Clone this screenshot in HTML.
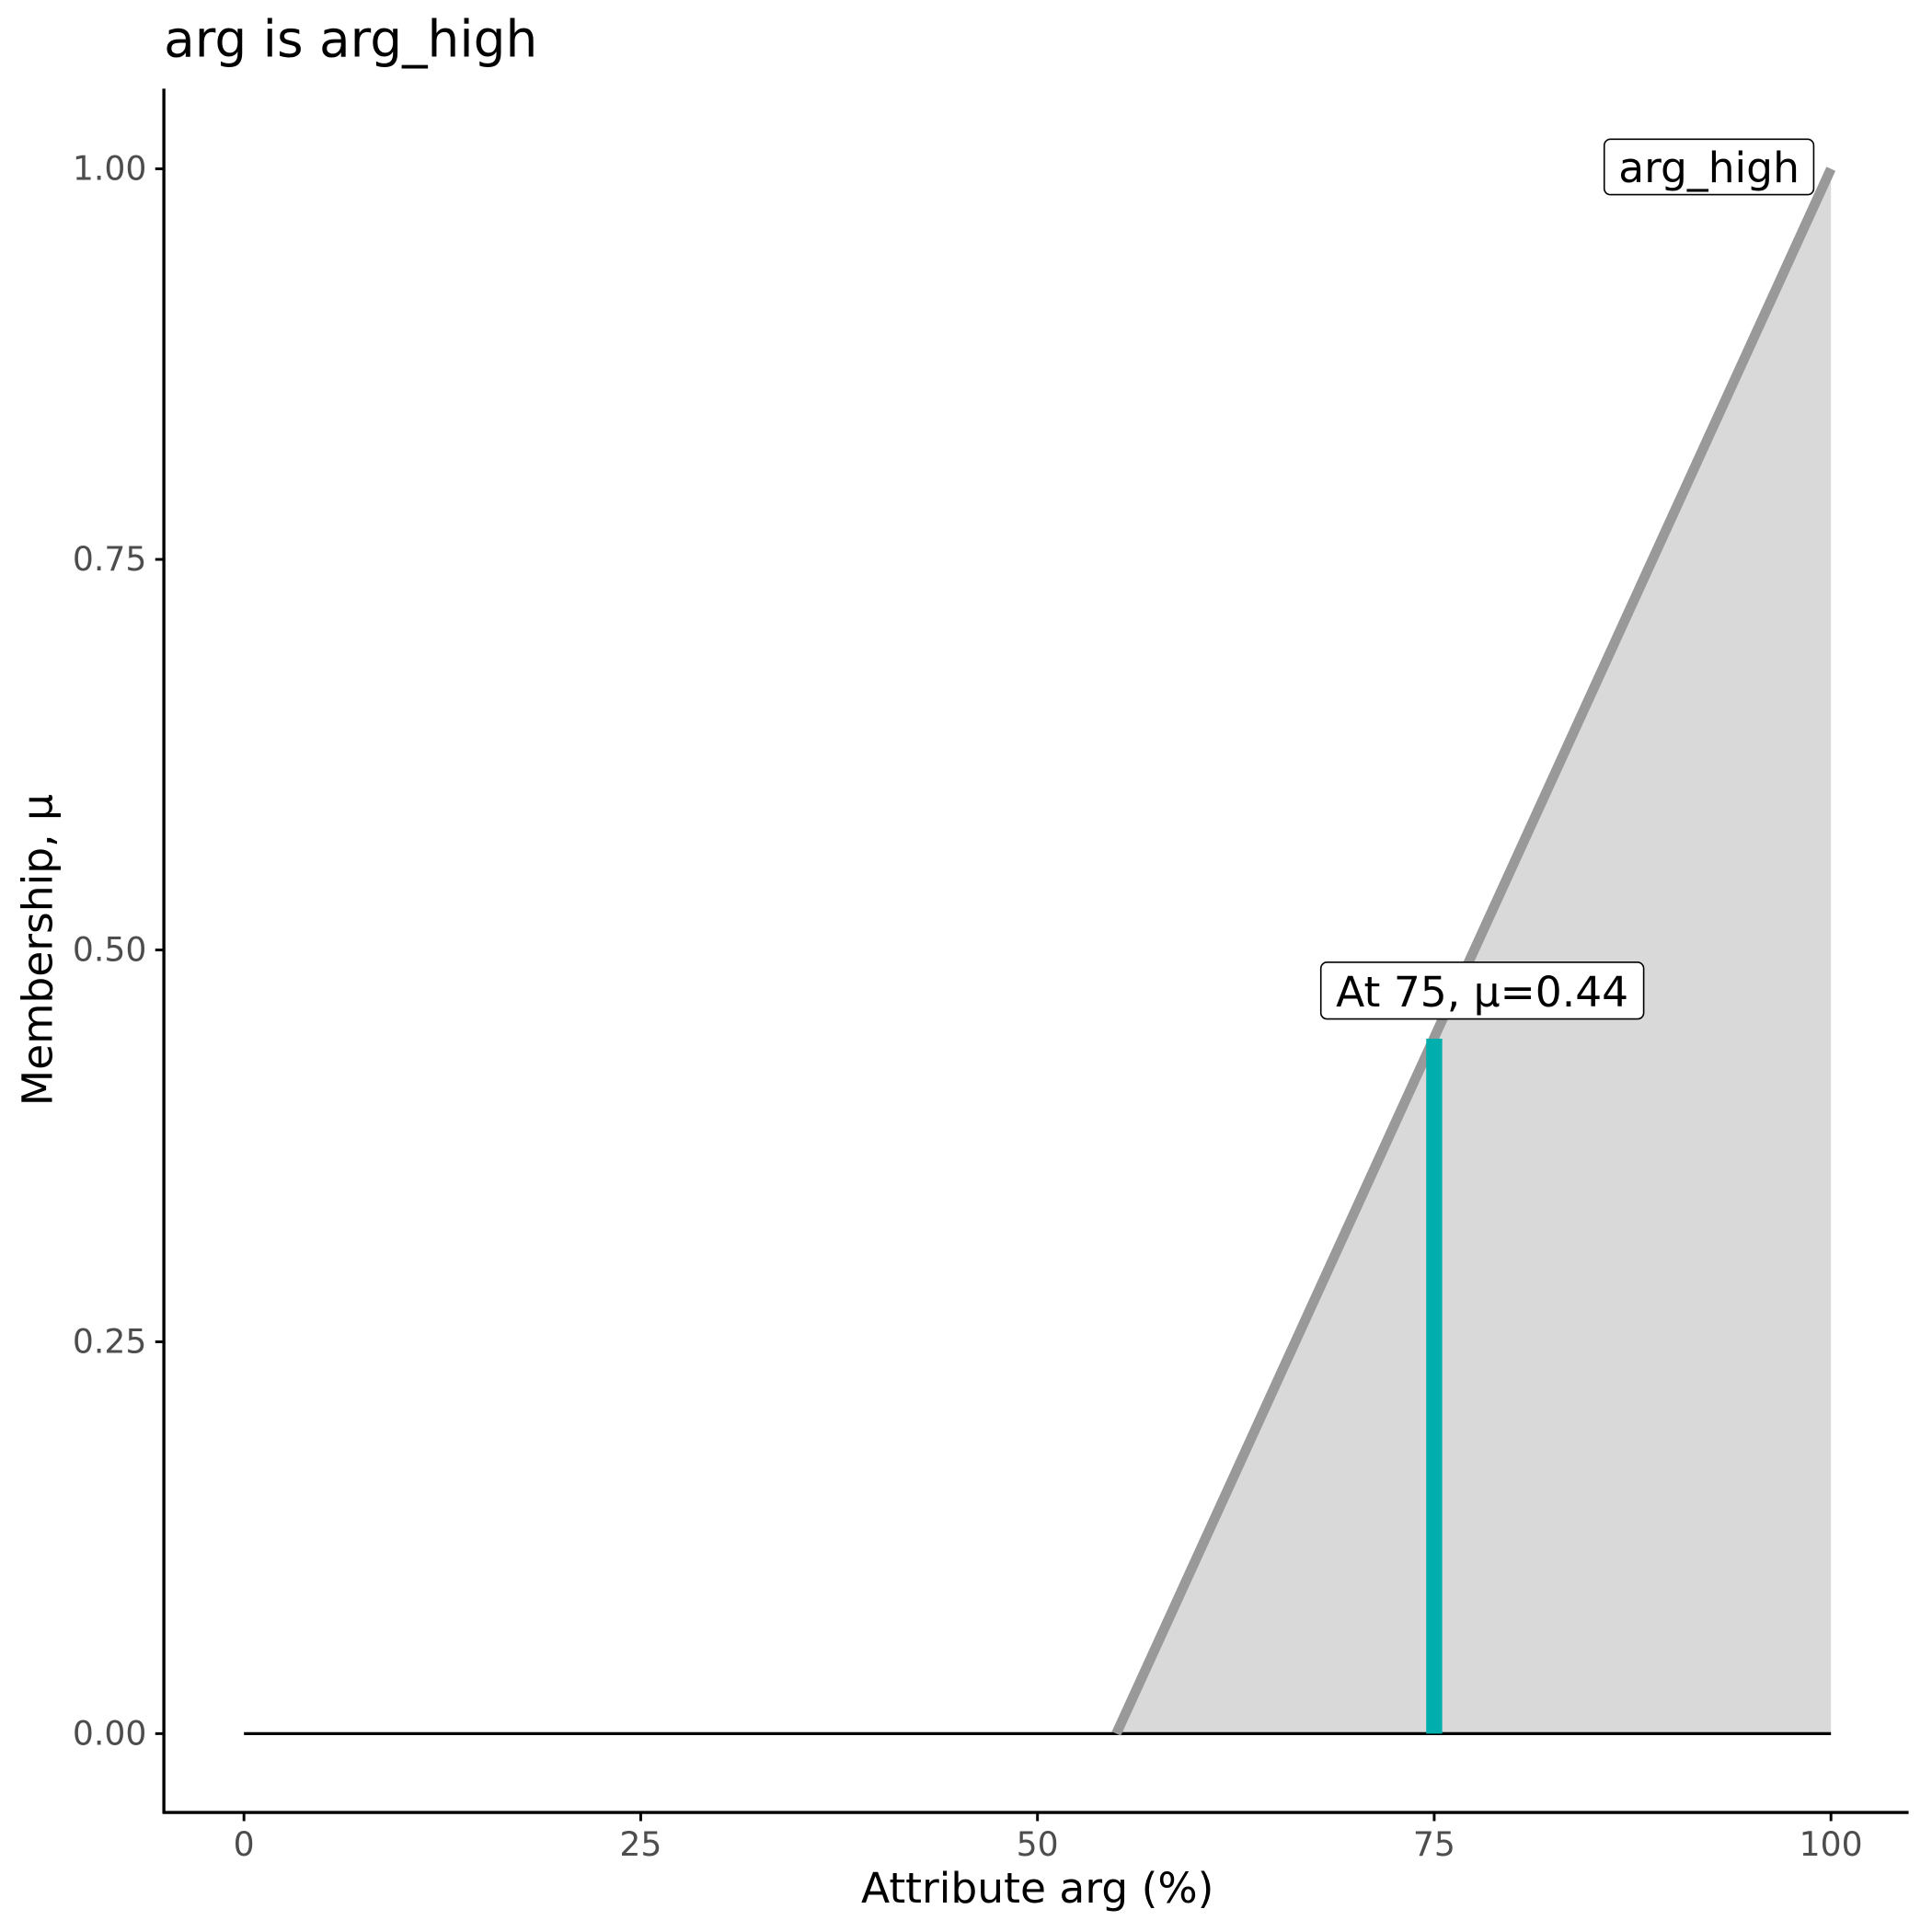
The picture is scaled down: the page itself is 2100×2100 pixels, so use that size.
<!DOCTYPE html>
<html><head><style>html,body{margin:0;padding:0;background:#fff}svg{display:block}</style></head>
<body>
<svg width="2100" height="2100" viewBox="0 0 1568 1568" xmlns="http://www.w3.org/2000/svg" font-family="'DejaVu Sans','Liberation Sans',sans-serif">
<rect width="1568" height="1568" fill="#fff"/>
<polygon points="906,1407 1486,137 1486,1407" fill="#d9d9d9"/>
<line x1="198" y1="1407" x2="1486" y2="1407" stroke="#000" stroke-width="2.5"/>
<line x1="906" y1="1407" x2="1486" y2="137" stroke="#999" stroke-width="8"/>
<line x1="1164" y1="1407" x2="1164" y2="843" stroke="#00aeae" stroke-width="13"/>
<rect x="1302" y="113" width="170" height="45" rx="5" fill="#fff" stroke="#000" stroke-width="1.2"/>
<text x="1387" y="148" font-size="34" text-anchor="middle">arg_high</text>
<rect x="1072" y="781" width="262" height="46" rx="5" fill="#fff" stroke="#000" stroke-width="1.2"/>
<text x="1203" y="817" font-size="34" text-anchor="middle">At 75, μ=0.44</text>
<line x1="133" y1="72" x2="133" y2="1472" stroke="#000" stroke-width="2.5"/>
<line x1="132" y1="1471" x2="1549" y2="1471" stroke="#000" stroke-width="2.5"/>
<g stroke="#000" stroke-width="2.2">
<line x1="126" y1="137" x2="133" y2="137"/><line x1="126" y1="454" x2="133" y2="454"/>
<line x1="126" y1="771" x2="133" y2="771"/><line x1="126" y1="1089" x2="133" y2="1089"/>
<line x1="126" y1="1407" x2="133" y2="1407"/>
<line x1="198" y1="1471" x2="198" y2="1478"/><line x1="520" y1="1471" x2="520" y2="1478"/>
<line x1="842" y1="1471" x2="842" y2="1478"/><line x1="1164" y1="1471" x2="1164" y2="1478"/>
<line x1="1486" y1="1471" x2="1486" y2="1478"/>
</g>
<g font-size="27" fill="#4d4d4d" text-anchor="end">
<text x="119" y="146">1.00</text><text x="119" y="463">0.75</text>
<text x="119" y="780">0.50</text><text x="119" y="1098">0.25</text><text x="119" y="1416">0.00</text>
</g>
<g font-size="27" fill="#4d4d4d" text-anchor="middle">
<text x="198" y="1506">0</text><text x="520" y="1506">25</text><text x="842" y="1506">50</text>
<text x="1164" y="1506">75</text><text x="1486" y="1506">100</text>
</g>
<text x="842" y="1544" font-size="34" text-anchor="middle">Attribute arg (%)</text>
<text transform="translate(42,771) rotate(-90)" font-size="34" text-anchor="middle">Membership, μ</text>
<text x="133" y="46" font-size="41">arg is arg_high</text>
</svg>
</body></html>
